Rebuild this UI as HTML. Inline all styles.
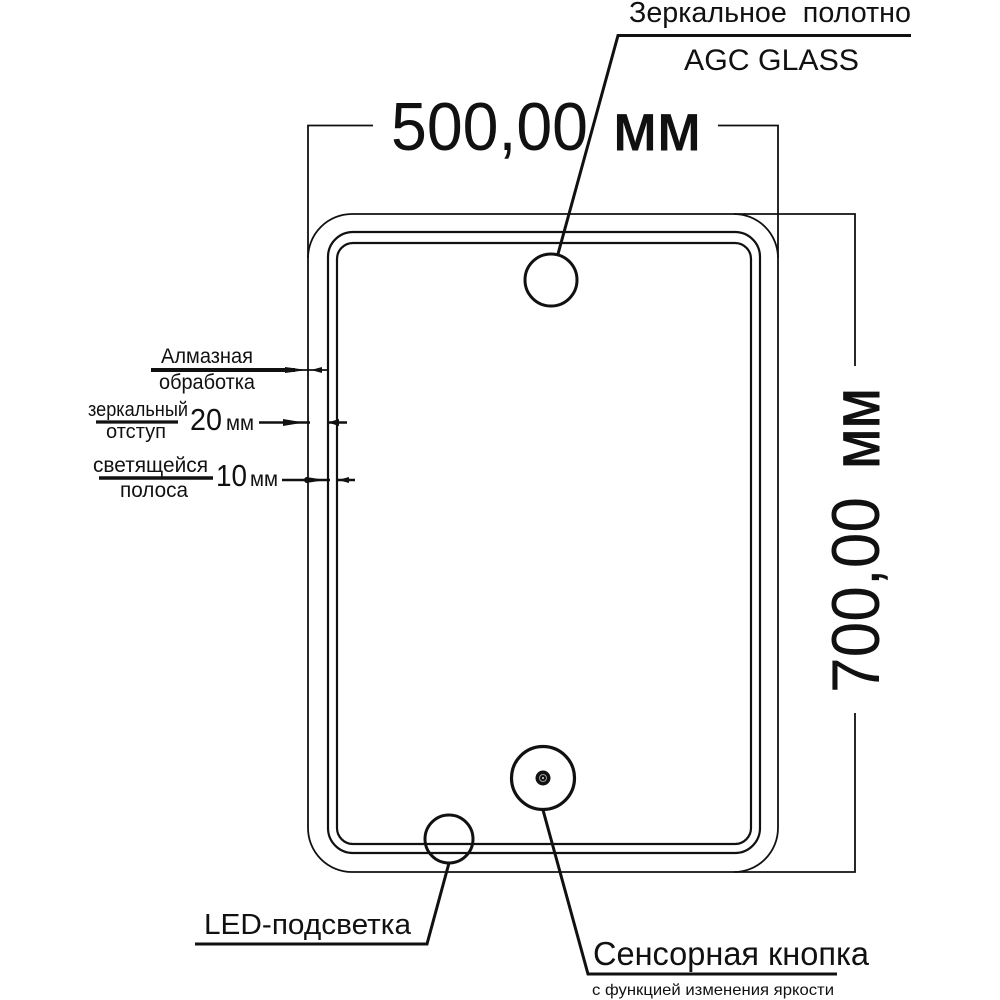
<!DOCTYPE html>
<html lang="ru">
<head>
<meta charset="utf-8">
<title>Зеркало 500×700</title>
<style>
html,body{margin:0;padding:0;background:#fff;width:1000px;height:1000px;overflow:hidden}
svg{display:block;filter:blur(.35px)}
text{font-family:"Liberation Sans","DejaVu Sans",sans-serif;fill:#111}
</style>
</head>
<body>
<svg width="1000" height="1000" viewBox="0 0 1000 1000" xmlns="http://www.w3.org/2000/svg">
<rect width="1000" height="1000" fill="#fff"/>
<g fill="none" stroke="#111">
  <!-- outer contour -->
  <path stroke-width="1.800" d="M308 258A44 44 0 0 1 352 214H734A44 44 0 0 1 778 258V828A44 44 0 0 1 734 872H352A44 44 0 0 1 308 828Z"/>
  <!-- extension lines -->
  <path stroke-width="1.800" d="M308 258V125.500H373M718 125.500H778V258M734 214H855V366M855 713V872H734"/>
  <!-- inner contours -->
  <rect x="328" y="232" width="432" height="621" rx="25" stroke-width="2.200"/>
  <rect x="337" y="243" width="414" height="601" rx="16" stroke-width="2.200"/>
  <!-- circles -->
  <circle cx="551" cy="280" r="26" stroke-width="3" fill="#fff"/>
  <circle cx="449" cy="839" r="24" stroke-width="3"/>
  <circle cx="543" cy="778" r="31.500" stroke-width="3.200"/>
  <!-- leaders -->
  <path stroke-width="3" d="M558 254L618 35.500H911"/>
  <path stroke-width="3" d="M449 863L427 944H195"/>
  <path stroke-width="3" d="M543 810L588 974H837"/>
  <!-- left callouts -->
  <path stroke-width="4" d="M151 370H295"/>
  <path stroke-width="1.800" d="M295 370H327"/>
  <path stroke-width="3.200" d="M96 422H178"/>
  <path stroke-width="2.400" d="M259 422.500H310M328 422.500H347"/>
  <path stroke-width="3.600" d="M99 478H213"/>
  <path stroke-width="2.400" d="M282 480H330M338 480H355"/>
</g>
<!-- arrowheads -->
<g fill="#111">
  <path d="M285 367L307 370L285 373Z"/>
  <path d="M311 370L322 367V373Z"/>
  <path d="M283 419L304 422.500L283 426Z"/>
  <path d="M328 422.500L339 419V426Z"/>
  <path d="M306 477L326 480L306 483Z"/>
  <path d="M338 480L349 477V483Z"/>
  <circle cx="307" cy="480" r="3"/>
  <circle cx="543" cy="778" r="7.500"/>
</g>
<circle cx="543" cy="778" r="3.500" fill="none" stroke="#999" stroke-width="1"/>
<circle cx="543" cy="778" r="1" fill="#ddd"/>

<!-- labels -->
<text x="629" y="22" font-size="29" textLength="282" lengthAdjust="spacingAndGlyphs" xml:space="preserve">Зеркальное  полотно</text>
<text x="684" y="70" font-size="30" textLength="175" lengthAdjust="spacingAndGlyphs">AGC GLASS</text>
<text x="391" y="150" font-size="68" textLength="197" lengthAdjust="spacingAndGlyphs">500,00</text>
<text x="613" y="150" font-size="67" stroke="#111" stroke-width="1" textLength="88" lengthAdjust="spacingAndGlyphs">мм</text>
<g transform="translate(879 693) rotate(-90)">
  <text x="0" y="0" font-size="68" textLength="196" lengthAdjust="spacingAndGlyphs">700,00</text>
  <text x="224" y="0" font-size="67" stroke="#111" stroke-width="1" textLength="81" lengthAdjust="spacingAndGlyphs">мм</text>
</g>

<text x="161" y="363" font-size="21" textLength="92" lengthAdjust="spacingAndGlyphs">Алмазная</text>
<text x="159" y="389" font-size="21" textLength="96" lengthAdjust="spacingAndGlyphs">обработка</text>
<text x="88" y="416" font-size="20" textLength="100" lengthAdjust="spacingAndGlyphs">зеркальный</text>
<text x="106" y="438" font-size="20" textLength="60" lengthAdjust="spacingAndGlyphs">отступ</text>
<text x="190" y="430" font-size="31" textLength="32" lengthAdjust="spacingAndGlyphs">20</text>
<text x="226" y="430" font-size="21" textLength="28" lengthAdjust="spacingAndGlyphs">мм</text>
<text x="93" y="472" font-size="21" textLength="115" lengthAdjust="spacingAndGlyphs">светящейся</text>
<text x="120" y="497" font-size="21" textLength="68" lengthAdjust="spacingAndGlyphs">полоса</text>
<text x="216" y="486" font-size="31" textLength="31" lengthAdjust="spacingAndGlyphs">10</text>
<text x="250" y="486" font-size="21" textLength="28" lengthAdjust="spacingAndGlyphs">мм</text>

<text x="204" y="934" font-size="29" textLength="207" lengthAdjust="spacingAndGlyphs">LED-подсветка</text>
<text x="593" y="965" font-size="33" textLength="276" lengthAdjust="spacingAndGlyphs">Сенсорная кнопка</text>
<text x="592" y="995" font-size="16" textLength="242" lengthAdjust="spacingAndGlyphs">с функцией изменения яркости</text>
</svg>
</body>
</html>
